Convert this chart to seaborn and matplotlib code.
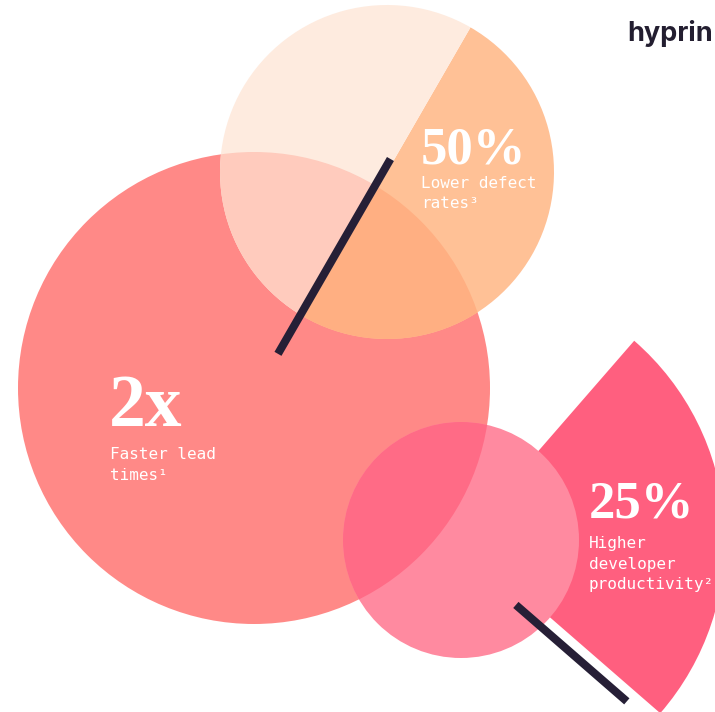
import numpy as np
import seaborn as sns
import matplotlib.pyplot as plt
from matplotlib.patches import Circle, Wedge

# stats shown on the chart
stat_values = ["2x", "50%", "25%"]
stat_lines = [["Faster lead", "times¹"],
              ["Lower defect", "rates³"],
              ["Higher", "developer", "productivity²"]]
lead_factor = 2        # 2x faster lead times
defect_share = 50      # % lower defect rates
prod_share = 25        # % higher productivity
logo = "hyprin"        # logo as visible (cut by the page edge)

sns.set_theme(style="white")

# colours
c_big = "#FF8987"
c_light = "#FEEBDF"
c_light_big = "#FFCBBD"
c_orange = "#FFC196"
c_orange_big = "#FFAF82"
c_pink = "#FF8AA0"
c_pink_big = "#FF6B86"
c_wedge = "#FF5F7F"
c_dark = "#261F36"

fig = plt.figure(figsize=(7.15, 7.12), dpi=100)
ax = fig.add_axes([0, 0, 1, 1])
ax.set_xlim(0, 715)
ax.set_ylim(712, 0)
ax.axis("off")

# geometry (pixel space, y down)
small_r = 118
big_c, big_r = (254, 388), lead_factor * small_r
top_c, top_r = (387, 172), 167
pink_c = (461, 540)
split = 60            # angle of the defect split line
wedge_top = 49        # upper edge of productivity wedge
wedge_r = 264


def clip_circle(c, r):
    return Circle(c, r, transform=ax.transData)


# big circle (2x)
ax.add_patch(Circle(big_c, big_r, color=c_big, lw=0, zorder=1))

# productivity wedge + pink circle
sweep = 360 * prod_share / 100
ax.add_patch(Wedge(pink_c, wedge_r, -wedge_top, -wedge_top + sweep,
                   color=c_wedge, lw=0, zorder=2))
ax.add_patch(Circle(pink_c, small_r, color=c_pink, lw=0, zorder=3))
ov = Circle(big_c, big_r, color=c_pink_big, lw=0, zorder=4)
ax.add_patch(ov)
ov.set_clip_path(clip_circle(pink_c, small_r))

# defect circle split in two halves
half = 360 * defect_share / 100
parts = [(-split, -split + half, c_orange, c_orange_big),
         (-split + half, -split + 360, c_light, c_light_big)]
for t1, t2, col, col_ov in parts:
    ax.add_patch(Wedge(top_c, top_r, t1, t2, color=col, lw=0, zorder=5))
    w = Wedge(top_c, top_r, t1, t2, color=col_ov, lw=0, zorder=6)
    ax.add_patch(w)
    w.set_clip_path(clip_circle(big_c, big_r))


def bar(c, ang, t0, t1, off):
    a = np.deg2rad(ang)
    d = np.array([np.cos(a), -np.sin(a)])
    n = np.array([-d[1], d[0]]) * off
    p0 = np.array(c) + t0 * d + n
    p1 = np.array(c) + t1 * d + n
    ax.plot([p0[0], p1[0]], [p0[1], p1[1]], color=c_dark, lw=5.8,
            solid_capstyle="butt", zorder=8)


bar(top_c, split, 13, -212, -3.5)
bar(pink_c, -(sweep - wedge_top), 84, 231, 13)

# labels
serif = "Liberation Serif"
mono = "DejaVu Sans Mono"
big_pos = [(109, 426, 53), (421, 163, 38), (589, 517, 38)]
line_pos = [(110, 459), (421, 188), (589, 548)]
for val, lines, (bx, by, fs), (lx, ly) in zip(stat_values, stat_lines,
                                               big_pos, line_pos):
    ax.text(bx, by, val, color="white", fontsize=fs, fontweight="bold",
            family=serif, va="baseline", ha="left", zorder=9)
    for i, ln in enumerate(lines):
        ax.text(lx, ly + i * 20.5, ln, color="white", fontsize=11.5,
                family=mono, va="baseline", ha="left", zorder=9)

ax.text(627, 41, logo, color="#231E30", fontsize=19.5, fontweight="bold",
        family=["Inter", "DejaVu Sans"], va="baseline", ha="left", zorder=9)

fig.savefig("out.png", dpi=100)
